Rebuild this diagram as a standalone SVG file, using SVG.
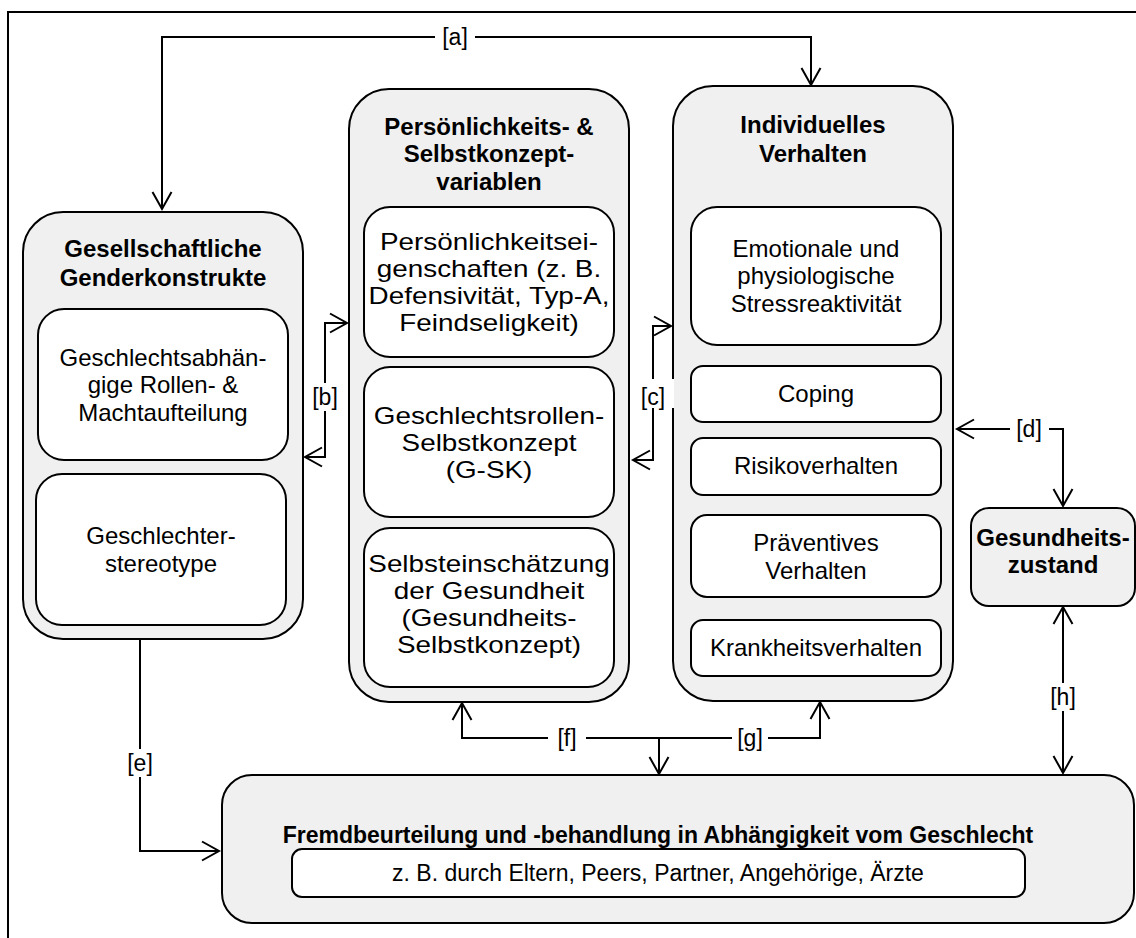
<svg xmlns="http://www.w3.org/2000/svg" width="1136" height="938" viewBox="0 0 1136 938">
  <defs>
    <style>
      .outer { fill: #f0f0f0; stroke: #000; stroke-width: 2; }
      .inner { fill: #fff; stroke: #000; stroke-width: 2; }
      .title { font-family: "Liberation Sans", Arial, sans-serif; font-size: 24px; font-weight: bold; text-anchor: middle; fill: #000; }
      .txt { font-family: "Liberation Sans", Arial, sans-serif; font-size: 24px; text-anchor: middle; fill: #000; }
      .small { font-size: 23px; }
      .conn { fill: none; stroke: #000; stroke-width: 2; }
      .lbl { font-family: "Liberation Sans", Arial, sans-serif; font-size: 23px; text-anchor: middle; fill: #000; }
      .lblbg { fill: #fff; stroke: none; }
    </style>
    <marker id="ah" viewBox="-2 -2 22 24" refX="17" refY="10" markerWidth="22" markerHeight="24" markerUnits="userSpaceOnUse" orient="auto-start-reverse">
      <path d="M0,0.5 L17,10 L0,19.5" fill="none" stroke="#000" stroke-width="2"/>
    </marker>
  </defs>

  <!-- frame -->
  <path d="M8,938 V12 H1136" fill="none" stroke="#000" stroke-width="2"/>

  <!-- left column -->
  <g id="gesellschaft">
    <rect class="outer" x="23" y="212" width="280" height="427" rx="40" ry="40"/>
    <text class="title" x="163" y="257">Gesellschaftliche</text>
    <text class="title" x="163" y="286">Genderkonstrukte</text>
    <g id="rollen">
      <rect class="inner" x="38" y="309" width="250" height="151" rx="26" ry="26"/>
      <text class="txt" x="163" y="366">Geschlechtsabhän-</text>
      <text class="txt" x="163" y="393">gige Rollen- &amp;</text>
      <text class="txt" x="163" y="421">Machtaufteilung</text>
    </g>
    <g id="stereotype">
      <rect class="inner" x="36" y="474" width="250" height="151" rx="26" ry="26"/>
      <text class="txt" x="161" y="544">Geschlechter-</text>
      <text class="txt" x="161" y="572">stereotype</text>
    </g>
  </g>

  <!-- middle column; its inner labels use a horizontally widened face -->
  <g id="persoenlichkeit">
    <rect class="outer" x="349" y="89" width="280" height="613" rx="40" ry="40"/>
    <text class="title" x="489" y="135">Persönlichkeits- &amp;</text>
    <text class="title" x="489" y="162">Selbstkonzept-</text>
    <text class="title" x="489" y="190">variablen</text>
    <g id="eigenschaften">
      <rect class="inner" x="364" y="207" width="250" height="150" rx="26" ry="26"/>
      <g transform="translate(489,0) scale(1.16,1)">
        <text class="txt" x="0" y="250">Persönlichkeitsei-</text>
        <text class="txt" x="0" y="277">genschaften (z. B.</text>
        <text class="txt" x="0" y="304">Defensivität, Typ-A,</text>
        <text class="txt" x="0" y="331">Feindseligkeit)</text>
      </g>
    </g>
    <g id="gsk">
      <rect class="inner" x="364" y="367" width="250" height="150" rx="26" ry="26"/>
      <g transform="translate(489,0) scale(1.16,1)">
        <text class="txt" x="0" y="424">Geschlechtsrollen-</text>
        <text class="txt" x="0" y="451">Selbstkonzept</text>
        <text class="txt" x="0" y="478">(G-SK)</text>
      </g>
    </g>
    <g id="selbsteinschaetzung">
      <rect class="inner" x="364" y="528" width="250" height="159" rx="26" ry="26"/>
      <g transform="translate(489,0) scale(1.16,1)">
        <text class="txt" x="0" y="572">Selbsteinschätzung</text>
        <text class="txt" x="0" y="599">der Gesundheit</text>
        <text class="txt" x="0" y="626">(Gesundheits-</text>
        <text class="txt" x="0" y="653">Selbstkonzept)</text>
      </g>
    </g>
  </g>

  <!-- right column -->
  <g id="verhalten">
    <rect class="outer" x="673" y="86" width="280" height="615" rx="40" ry="40"/>
    <text class="title" x="813" y="133">Individuelles</text>
    <text class="title" x="813" y="162">Verhalten</text>
    <g id="stress">
      <rect class="inner" x="691" y="207" width="250" height="138" rx="26" ry="26"/>
      <text class="txt" x="816" y="257">Emotionale und</text>
      <text class="txt" x="816" y="284">physiologische</text>
      <text class="txt" x="816" y="312">Stressreaktivität</text>
    </g>
    <g id="coping">
      <rect class="inner" x="691" y="366" width="250" height="56" rx="12" ry="12"/>
      <text class="txt" x="816" y="402">Coping</text>
    </g>
    <g id="risiko">
      <rect class="inner" x="691" y="438" width="250" height="57" rx="12" ry="12"/>
      <text class="txt" x="816" y="474">Risikoverhalten</text>
    </g>
    <g id="praeventiv">
      <rect class="inner" x="691" y="515" width="250" height="82" rx="16" ry="16"/>
      <text class="txt" x="816" y="551">Präventives</text>
      <text class="txt" x="816" y="579">Verhalten</text>
    </g>
    <g id="krankheit">
      <rect class="inner" x="691" y="620" width="250" height="56" rx="12" ry="12"/>
      <text class="txt" x="816" y="656">Krankheitsverhalten</text>
    </g>
  </g>

  <g id="gesundheitszustand">
    <rect class="outer" x="971" y="508" width="164" height="98" rx="18" ry="18"/>
    <text class="title" x="1053" y="546">Gesundheits-</text>
    <text class="title" x="1053" y="573">zustand</text>
  </g>

  <g id="fremdbeurteilung">
    <rect class="outer" x="222" y="775" width="912" height="148" rx="30" ry="30"/>
    <text class="title small" x="658" y="843">Fremdbeurteilung und -behandlung in Abhängigkeit vom Geschlecht</text>
    <rect class="inner" x="292" y="849" width="733" height="48" rx="10" ry="10"/>
    <text class="txt small" x="658" y="881">z. B. durch Eltern, Peers, Partner, Angehörige, Ärzte</text>
  </g>

  <!-- connectors -->
  <g id="connectors">
    <path class="conn" d="M162,209 V37 H811 V85" marker-start="url(#ah)" marker-end="url(#ah)"/>
    <path class="conn" d="M347,323 H325 V457 H305" marker-start="url(#ah)" marker-end="url(#ah)"/>
    <path class="conn" d="M671,326 H653 V460 H633" marker-start="url(#ah)" marker-end="url(#ah)"/>
    <path class="conn" d="M957,429 H1063 V506" marker-start="url(#ah)" marker-end="url(#ah)"/>
    <path class="conn" d="M140,639 V851 H219" marker-end="url(#ah)"/>
    <path class="conn" d="M462,703 V738 H820 V702" marker-start="url(#ah)" marker-end="url(#ah)"/>
    <path class="conn" d="M659,738 V774" marker-end="url(#ah)"/>
    <path class="conn" d="M1063,607 V773" marker-start="url(#ah)" marker-end="url(#ah)"/>

    <!-- labels on the lines -->
    <rect class="lblbg" x="435" y="25" width="40" height="24"/>
    <text class="lbl" x="455" y="45">[a]</text>
    <rect class="lblbg" x="312" y="383" width="27" height="28"/>
    <text class="lbl" x="325" y="405">[b]</text>
    <rect class="lblbg" x="641" y="379" width="33" height="29"/>
    <text class="lbl" x="653" y="405">[c]</text>
    <rect class="lblbg" x="1010" y="416" width="39" height="26"/>
    <text class="lbl" x="1029" y="437">[d]</text>
    <rect class="lblbg" x="127" y="749" width="27" height="28"/>
    <text class="lbl" x="140" y="771">[e]</text>
    <rect class="lblbg" x="548" y="725" width="38" height="26"/>
    <text class="lbl" x="567" y="746">[f]</text>
    <rect class="lblbg" x="732" y="725" width="36" height="26"/>
    <text class="lbl" x="750" y="746">[g]</text>
    <rect class="lblbg" x="1050" y="683" width="27" height="28"/>
    <text class="lbl" x="1063" y="705">[h]</text>
  </g>
</svg>
